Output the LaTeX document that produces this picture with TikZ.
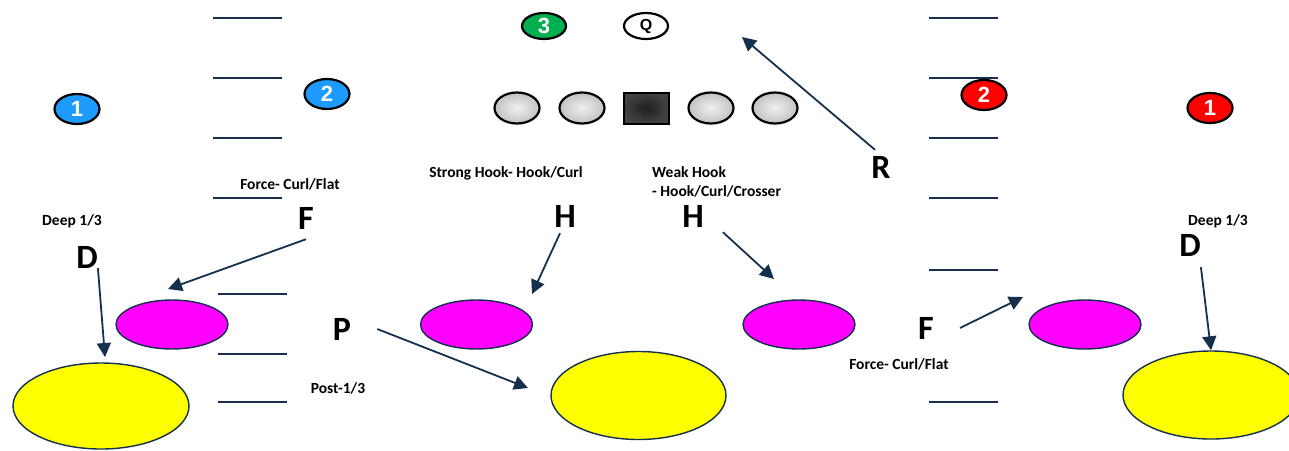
\documentclass[tikz,border=0pt]{standalone}
\usepackage{fontspec}
\setmainfont{Carlito}
\newfontfamily\digitfont{Liberation Sans}
\usepackage{tikz}
\usetikzlibrary{positioning, shapes.geometric, arrows.meta}
\definecolor{navy}{HTML}{14304D}
\definecolor{offblue}{HTML}{1E9BFF}
\definecolor{defred}{HTML}{FF0000}
\definecolor{lbgreen}{HTML}{00B050}
\definecolor{zonepink}{HTML}{FF00FF}
\definecolor{zoneyellow}{HTML}{FFFF00}

\begin{document}
\begin{tikzpicture}[x=1pt, y=-1pt,
yard/.style={draw=navy, line width=1.6pt},
player/.style={ellipse, draw=black, line width=2.2pt, inner sep=0, minimum width=45pt, minimum height=30pt, text=white, font=\digitfont\bfseries\fontsize{22}{22}\selectfont},
oline/.style={ellipse, draw=black, line width=2.2pt, minimum width=45pt, minimum height=31pt, inner color=black!6, outer color=black!24},
cbox/.style={rectangle, draw=black, line width=2pt, minimum width=45pt, minimum height=31pt, inner color=black!88, outer color=black!74},
zone/.style={ellipse, draw=navy, line width=1.4pt, inner sep=0},
hook/.style={zone, fill=zonepink, minimum width=112pt, minimum height=49pt},
deep/.style={zone, fill=zoneyellow, minimum width=176pt, minimum height=88pt},
letter/.style={inner sep=0, font=\bfseries\fontsize{34}{34}\selectfont},
lbl/.style={inner sep=0, font=\bfseries\fontsize{15.5}{19.5}\selectfont},
arr/.style={navy, line width=1.8pt, -{Triangle[length=14pt,width=14pt]}}]
    \clip (0,0) rectangle (1289,450);

    % yard marks
    \foreach \y in {18,78,138,198} {
      \draw[yard] (213,\y) -- (282,\y);
      \draw[yard] (929,\y) -- (998,\y);
    }
    \foreach \y in {294,354,402} \draw[yard] (218,\y) -- (287,\y);
    \foreach \y in {270,402} \draw[yard] (929,\y) -- (998,\y);

    % offense
    \foreach \x/\nm in {517/lt, 582/lg, 711/rg, 775/rt}
      \node[oline] (\nm) at (\x,108) {};
    \node[cbox] (c) at (646,108) {};
    \node[player, fill=white, text=black, minimum width=44pt, minimum height=26pt, font=\digitfont\bfseries\fontsize{16}{16}\selectfont] (qb) at (646,26) {Q};

    % defense
    \node[player, fill=offblue] (lc) at (77,109) {1};
    \node[player, fill=offblue] (ls) at (327,94) {2};
    \node[player, fill=lbgreen, minimum width=44pt, minimum height=26pt] (mlb) at (544,26) {3};
    \node[player, fill=defred] (rs) at (984,95) {2};
    \node[player, fill=defred] (rc) at (1210,108) {1};

    % zones
    \node[hook] (cfl) at (172,324.5) {};
    \node[hook] (shk) at (476.5,324.5) {};
    \node[hook] (whk) at (799,324.5) {};
    \node[hook] (cfr) at (1085,324.5) {};
    \node[deep, minimum height=86pt] (dl) at (101,406) {};
    \node[deep, minimum width=175pt] (dm) at (638.5,395.5) {};
    \node[deep] (dr) at (1211,395) {};

    \node[letter] (Dl) at (87,257) {D};
    \node[letter] (Fl) at (306,218) {F};
    \node[letter] (P) at (342,329) {P};
    \node[letter] (Hs) at (565,216) {H};
    \node[letter] (Hw) at (693,216) {H};
    \node[letter] (Fr) at (926,328) {F};
    \node[letter] (Dr) at (1190,245) {D};
    \node[letter] (R) at (881,167) {R};

    \node[lbl, anchor=base] (deepl) at (72,225) {Deep 1/3};
    \node[lbl, anchor=base] (forcel) at (290,189) {Force- Curl/Flat};
    \node[lbl, anchor=base] (post) at (338,393) {Post-1/3};
    \node[lbl, anchor=base] (strong) at (506,177) {Strong Hook- Hook/Curl};
    \node[lbl, align=left, anchor=west] (weak) at (652,182) {Weak Hook\\- Hook/Curl/Crosser};
    \node[lbl, anchor=base] (forcer) at (899,369) {Force- Curl/Flat};
    \node[lbl, anchor=base] (deepr) at (1218,225) {Deep 1/3};

    \coordinate (Dl-tip) at (105,357);
    \coordinate (Fl-tip) at (168,289);
    \coordinate (P-tip) at (528,388);
    \coordinate (Hs-tip) at (532,294);
    \coordinate (Hw-tip) at (774,279);
    \coordinate (Fr-tip) at (1023,297);
    \coordinate (R-tip) at (742,37);

    \draw[arr] (Dl.south east) -- (Dl-tip);
    \draw[arr] ([yshift=-10pt]Fl.south) -- (Fl-tip);
    \draw[arr] ([xshift=26pt]P.east) -- (P-tip);
    \draw[arr] ([xshift=-5pt,yshift=-6pt]Hs.south) -- (Hs-tip);
    \draw[arr] ([xshift=19pt,yshift=-5pt]Hw.south east) -- (Hw-tip);
    \draw[arr] ([xshift=26pt]Fr.east) -- (Fr-tip);
    \draw[arr] ([yshift=-11pt]Dr.south east) -- (dr.north);
    \draw[arr] ([xshift=-6pt,yshift=6pt]R.north) -- (R-tip);
\end{tikzpicture}
\end{document}
